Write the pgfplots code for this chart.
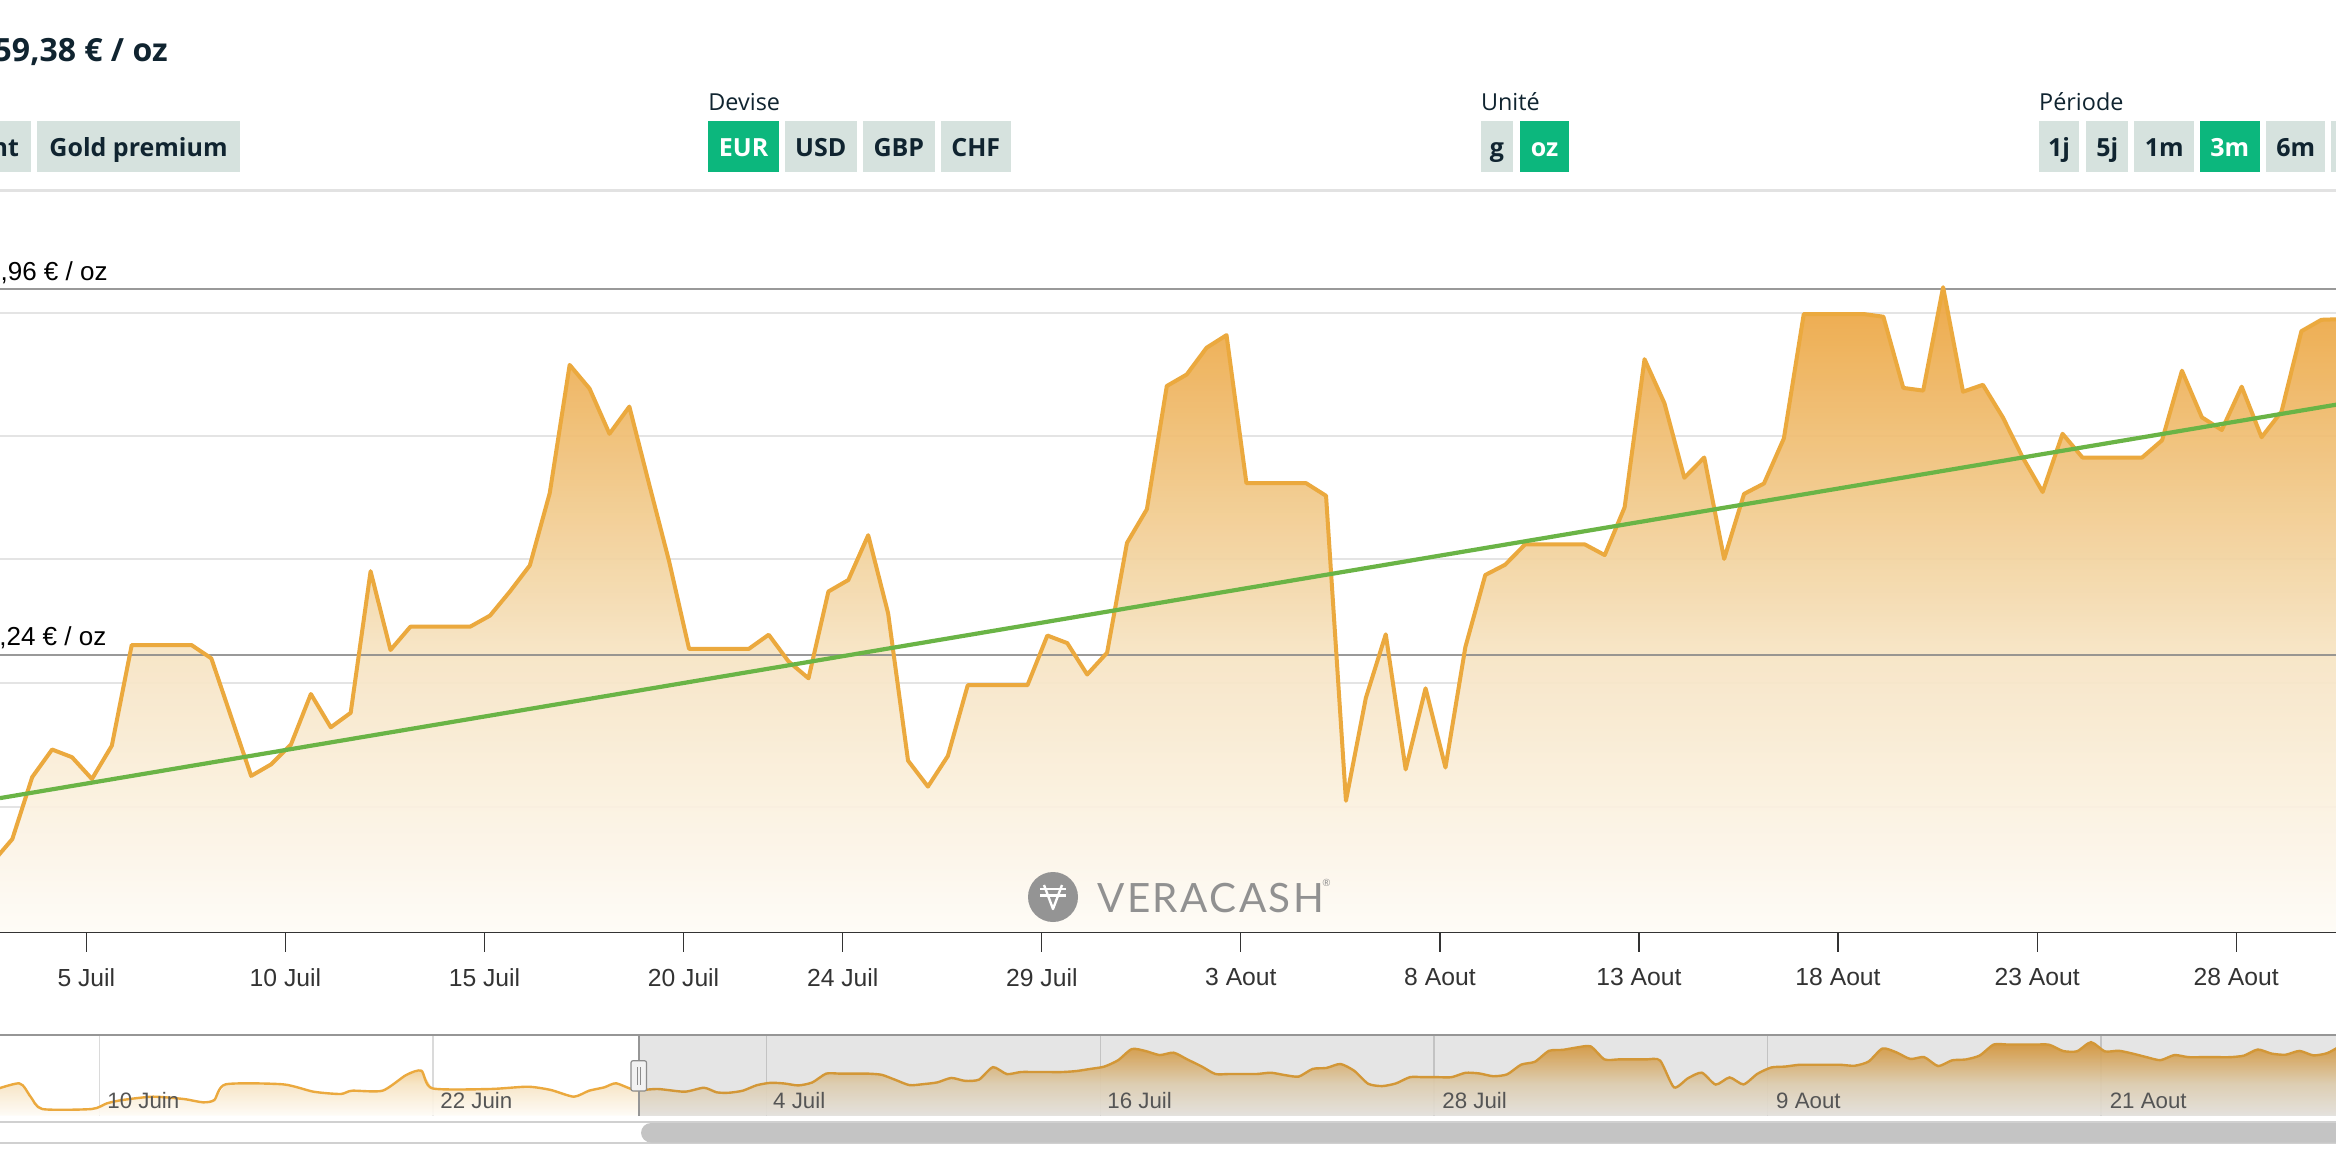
\documentclass[border=0pt]{standalone}
\usepackage{pgfplots}
\pgfplotsset{compat=1.18}
\usepackage{pgfplotstable}
\usepackage{fontspec}
\setmainfont{Liberation Sans}
\newfontfamily\os{Open Sans}
\newfontfamily\lato{Lato}[LetterSpace=6]

\definecolor{navy}{RGB}{16,36,48}
\definecolor{btn}{RGB}{214,226,222}
\definecolor{btngreen}{RGB}{12,183,125}
\definecolor{sepc}{RGB}{226,226,226}
\definecolor{gridc}{RGB}{228,228,228}
\definecolor{navgrid}{RGB}{218,218,218}
\definecolor{refc}{RGB}{136,136,136}
\definecolor{gold}{RGB}{235,169,62}
\definecolor{trend}{RGB}{106,180,70}
\definecolor{axc}{RGB}{51,51,51}
\definecolor{navtop}{RGB}{150,150,150}
\definecolor{handlefill}{RGB}{242,242,242}
\definecolor{handledraw}{RGB}{140,140,140}
\definecolor{scr}{RGB}{208,208,208}
\definecolor{thumb}{RGB}{196,196,196}
\definecolor{logog}{RGB}{148,148,148}
\definecolor{logotxt}{RGB}{145,145,145}
\definecolor{navlbl}{RGB}{85,85,85}
\definecolor{gf0}{RGB}{254,252,247}
\definecolor{gf1}{RGB}{247,228,195}
\definecolor{gf2}{RGB}{242,207,150}
\definecolor{gf3}{RGB}{236,163,59}
\pgfdeclareverticalshading{goldfade}{100bp}{color(0bp)=(gf0); color(25bp)=(gf0); color(46.7bp)=(gf1); color(56bp)=(gf2); color(75bp)=(gf3); color(100bp)=(gf3)}

\newcommand\bfnt{\os\bfseries\fontsize{12.5}{15}\selectfont}
\newcommand\btn[5]{%
  \fill[#3] (#1,121) rectangle (#2,171.7);
  \node[anchor=base, inner sep=0pt, text=#4, font=\bfnt] at ({(#1+#2)/2},156.7) {#5};}

\pgfplotstableread{
d v
2.639 70.2
3.139 93.5
3.639 155.5
4.139 183.1
4.639 175.4
5.139 153.6
5.639 186.9
6.139 287.6
6.639 287.6
7.139 287.6
7.639 287.6
8.139 274.2
8.639 215.4
9.139 156.7
9.639 168.2
10.139 188.1
10.639 238.6
11.139 205.3
11.639 219.8
12.139 361.4
12.639 282.6
13.139 305.9
13.639 305.9
14.139 305.9
14.639 305.9
15.139 317.0
15.639 341.1
16.139 367.2
16.639 439.5
17.139 567.7
17.639 544.0
18.139 498.8
18.639 526.0
19.139 447.9
19.639 371.0
20.139 283.7
20.639 283.7
21.139 283.7
21.639 283.7
22.139 297.9
22.639 271.1
23.139 254.3
23.639 341.1
24.139 352.6
24.639 397.4
25.139 319.3
25.639 172.0
26.139 146.0
26.639 176.6
27.139 247.4
27.639 247.4
28.139 247.4
28.639 247.4
29.139 297.1
29.639 289.5
30.139 258.1
30.639 279.9
31.139 389.7
31.639 423.4
32.139 546.6
32.639 558.1
33.139 584.9
33.639 597.5
34.139 449.4
34.639 449.4
35.139 449.4
35.639 449.4
36.139 436.8
36.639 131.8
37.139 234.7
37.639 298.3
38.139 163.2
38.639 244.3
39.139 165.1
39.639 285.6
40.139 357.6
40.639 367.9
41.139 388.2
41.639 388.2
42.139 388.2
42.639 388.2
43.139 377.5
43.639 425.3
44.139 573.4
44.639 529.4
45.139 454.8
45.639 475.1
46.139 373.7
46.639 438.7
47.139 449.1
47.639 494.2
48.139 618.6
48.639 618.6
49.139 618.6
49.639 618.6
50.139 615.9
50.639 544.7
51.139 542.0
51.639 645.4
52.139 540.9
52.639 547.8
53.139 515.3
53.639 475.1
54.139 440.6
54.639 498.8
55.139 475.1
55.639 475.1
56.139 475.1
56.639 475.1
57.139 492.3
57.639 561.9
58.139 515.3
58.639 502.6
59.139 545.9
59.639 495.4
60.139 521.0
60.639 601.4
61.139 612.8
61.639 613.5
}\maindata

\pgfplotstableread{
d v
-24.0 80
-22.89 177.5
-22.48 25.4
-22.06 -115
-20.28 -115
-19.73 -50
-19.18 -12.5
-18.08 25.4
-16.97 -1.1
-16.28 -38.7
-15.87 -12.5
-15.46 166
-13.40 166
-12.30 82
-11.33 55.8
-10.92 93.4
-9.82 93.4
-8.97 271.9
-8.42 321
-8.03 120.6
-5.96 112.6
-4.59 139
-3.76 101.3
-2.94 25.4
-2.39 93.4
-1.84 131.8
-1.42 177.5
-0.74 101.3
0.09 112.6
1.05 82
1.74 127
2.20 75
}\navdata
\pgfplotstablevertcat{\navdata}{\maindata}

\begin{document}
\begin{tikzpicture}
\useasboundingbox (0,0) rectangle (1168pt,-584pt);
\clip (0,0) rectangle (1168pt,-584pt);
\fill[white] (0,0) rectangle (1168pt,-584pt);

\begin{scope}[x=0.5pt,y=-0.5pt]
\node[anchor=base east, inner sep=0pt, text=navy, font=\os\bfseries\fontsize{16}{18}\selectfont] at (168,61.7) {59,38 € / oz};
\fill[btn] (-10,121) rectangle (30.6,171.7);
\node[anchor=base east, inner sep=0pt, text=navy, font=\bfnt] at (19.4,156.7) {nt};
\btn{37.2}{239.8}{btn}{navy}{Gold premium}
\tikzset{lbl/.style={anchor=base west, inner sep=0pt, text=navy, font=\os\fontsize{11.7}{14}\selectfont}}
\node[lbl] at (708,110) {Devise};
\btn{708}{779.2}{btngreen}{white}{EUR}
\btn{784.9}{856.7}{btn}{navy}{USD}
\btn{863}{934.7}{btn}{navy}{GBP}
\btn{941}{1010.5}{btn}{navy}{CHF}
\node[lbl] at (1480.6,110) {Unité};
\btn{1480.6}{1513.4}{btn}{navy}{g}
\btn{1520}{1569}{btngreen}{white}{oz}
\node[lbl] at (2038.8,110) {Période};
\btn{2038.8}{2079.4}{btn}{navy}{1j}
\btn{2086}{2128.4}{btn}{navy}{5j}
\btn{2134.3}{2194}{btn}{navy}{1m}
\btn{2200}{2259.7}{btngreen}{white}{3m}
\btn{2266.3}{2325}{btn}{navy}{6m}
\fill[btn] (2331,121) rectangle (2380,171.7);
\draw[sepc, line width=1.5pt] (0,190.7) -- (2336,190.7);
\end{scope}

\begin{axis}[
  at={(0pt,-466.3pt)}, anchor=south west,
  scale only axis, width=1168pt, height=341.3pt,
  xmin=2.830, xmax=61.51, ymin=0, ymax=682.6,
  enlargelimits=false,
  axis line style={draw=none},
  xtick={5,10,15,20,24,29,34,39,44,49,54,59},
  xticklabels={5 Juil,10 Juil,15 Juil,20 Juil,24 Juil,29 Juil,3 Aout,8 Aout,13 Aout,18 Aout,23 Aout,28 Aout},
  xtick pos=left, tick align=outside, major tick length=9.5pt,
  xtick style={draw=axc, line width=0.6pt},
  ytick={126,250,374,497,620}, yticklabels={}, ytick style={draw=none},
  ymajorgrids, grid style={draw=gridc, line width=0.9pt},
  tick label style={font=\fontsize{12.35}{14}\selectfont, text=axc},
  xticklabel style={anchor=north, inner sep=0pt, yshift=-8.3pt},
]
\addplot[draw=none, shading=goldfade, fill opacity=0.92] table[x=d,y=v]{\maindata} \closedcycle;
\addplot[refc, line width=1pt, opacity=0.85] coordinates {(2.83,643.6) (61.51,643.6)};
\addplot[refc, line width=1pt, opacity=0.85] coordinates {(2.83,277.6) (61.51,277.6)};
\addplot[gold, line width=2pt, line join=round] table[x=d,y=v]{\maindata};
\addplot[trend, line width=2.1pt] coordinates {(2.83,134.5) (61.51,527.9)};
\draw[axc, line width=1pt] (rel axis cs:0,0) -- (rel axis cs:1,0);
\end{axis}

\begin{axis}[
  at={(0pt,-557.85pt)}, anchor=south west,
  scale only axis, width=1168pt, height=40.35pt,
  xmin=-23.58, xmax=60.45, ymin=0, ymax=918.1,
  enlargelimits=false,
  axis line style={draw=none},
  xtick={-20,-8,4,16,28,40,52}, xticklabels={}, tick style={draw=none},
  ytick=\empty,
  xmajorgrids, grid style={draw=navgrid, line width=0.7pt},
]
\addplot[draw=none, shading=goldfade, fill opacity=0.92] table[x=d,y expr=\thisrow{v}+191.1]{\navdata} \closedcycle;
\addplot[gold, line width=1.2pt, smooth, tension=0.4] table[x=d,y expr=\thisrow{v}+191.1]{\navdata};
\end{axis}

\begin{scope}[x=0.5pt,y=-0.5pt]
% reference labels
\node[anchor=base east, inner sep=0pt, font=\fontsize{13}{15}\selectfont] at (108,280) {,96 € / oz};
\node[anchor=base east, inner sep=0pt, font=\fontsize{13}{15}\selectfont] at (106.7,645) {,24 € / oz};
% logo
\fill[logog] (1053,897) circle[radius=25];
\draw[white, line width=1.2pt, line join=round] (1044,885) -- (1053,909) -- (1062,885);
\draw[white, line width=1.2pt] (1040,889) -- (1066,889) (1040,895.5) -- (1066,895.5);
\node[anchor=base west, inner sep=0pt, text=logotxt, font=\lato\fontsize{20.2}{24}\selectfont] at (1097,912.3) {VERACASH};
\node[anchor=base west, inner sep=0pt, text=logotxt, font=\lato\fontsize{5}{6}\selectfont] at (1322,886) {®};
% navigator overlays
\fill[black, opacity=0.1] (639,1035) rectangle (2336,1115.7);
\draw[navtop, line width=0.8pt] (0,1035) -- (2336,1035);
\draw[navtop, line width=0.6pt] (639,1035) -- (639,1115.7);
\filldraw[fill=handlefill, draw=handledraw, line width=0.6pt, rounded corners=1pt] (631,1060.7) rectangle (646.5,1091);
\draw[handledraw, line width=0.5pt] (637,1067) -- (637,1085) (640.5,1067) -- (640.5,1085);
\tikzset{nl/.style={anchor=base west, inner sep=0pt, text=navlbl, font=\fontsize{11.15}{13}\selectfont}}
\node[nl] at (107,1108.3) {10 Juin};
\node[nl] at (440,1108.3) {22 Juin};
\node[nl] at (772.8,1108.3) {4 Juil};
\node[nl] at (1107,1108.3) {16 Juil};
\node[nl] at (1442,1108.3) {28 Juil};
\node[nl] at (1775.8,1108.3) {9 Aout};
\node[nl] at (2109.4,1108.3) {21 Aout};
% scrollbar
\draw[scr, line width=1pt] (0,1122.3) -- (2336,1122.3) (0,1142.5) -- (2336,1142.5);
\fill[thumb, rounded corners=5pt] (641,1123) rectangle (2400,1142.5);
\end{scope}
\end{tikzpicture}
\end{document}
